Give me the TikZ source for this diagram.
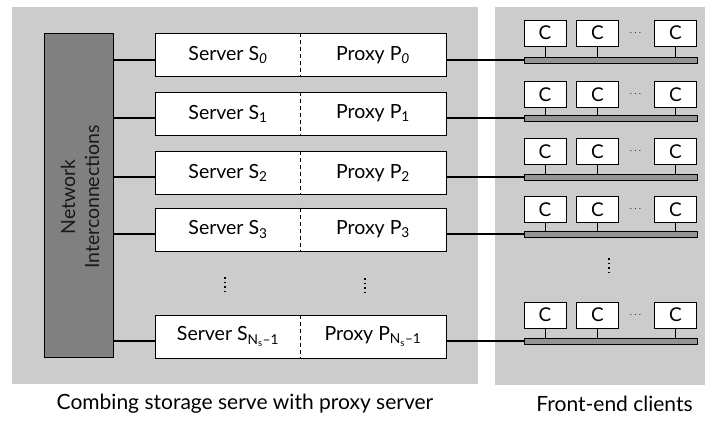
\documentclass[tikz,border=0pt]{standalone}
\usepackage{fontspec}
\setmainfont{Lato}
\begin{document}
\begin{tikzpicture}[x=1pt,y=-1pt,
  panel/.style={fill=black!20,draw=none},
  netbox/.style={draw=black,line width=0.9pt,fill=black!50,minimum width=69pt,minimum height=324pt,inner sep=0pt},
  rowbox/.style={draw=black,line width=1pt,fill=white,minimum width=291pt,minimum height=43pt,inner sep=0pt},
  lbl/.style={font=\fontsize{19.5}{22}\selectfont,inner sep=0pt},
  cbox/.style={draw=black,line width=0.9pt,fill=white,minimum width=42pt,minimum height=26pt,inner sep=0pt,font=\fontsize{19}{20}\selectfont},
  bus/.style={draw=black,line width=0.7pt,fill=black!42,minimum width=173pt,minimum height=6pt,inner sep=0pt},
  wire/.style={line width=1.6pt},
  stub/.style={line width=0.7pt},
  divider/.style={line width=0.8pt,dash pattern=on 4pt off 3pt},
  vdots/.style={line width=1.6pt,dash pattern=on 1.6pt off 3pt,line cap=butt},
  caption/.style={font=\fontsize{21}{24}\selectfont,inner sep=0pt}
]
\useasboundingbox (0,0) rectangle (708,420);
% shaded panels
\fill[panel] (12,7) rectangle (478,384);
\fill[panel] (495,7) rectangle (705,385);

% network block
\node[netbox] (net) at (78.5,195) {};
\node[lbl,rotate=90,align=center,font=\fontsize{19.5}{24}\selectfont,text=black!90] (nettext) at (80,197) {Network\\Interconnections};

% server/proxy rows: name, centre y, wire y, server label, proxy label
\foreach \n/\cy/\wy/\s/\p in {
  0/55/60/{S\textsubscript{\itshape 0}}/{P\textsubscript{\itshape 0}},
  1/113.5/118/{S\textsubscript{1}}/{P\textsubscript{1}},
  2/173/177/{S\textsubscript{2}}/{P\textsubscript{2}},
  3/229.5/234/{S\textsubscript{3}}/{P\textsubscript{3}},
  4/336.5/341/{S\textsubscript{N\textsubscript{s}–1}}/{P\textsubscript{N\textsubscript{s}–1}}}{
  \node[rowbox] (row\n) at (300.5,\cy) {};
  \draw[divider] (row\n.north) -- (row\n.south);
  \node[lbl] (srv\n) at (228,\cy) {Server \s};
  \node[lbl] (prx\n) at (373,\cy) {Proxy \p};
  \coordinate (w\n) at (134,\wy);
  \draw[wire] (net.east |- w\n) -- (row\n.west |- w\n);
}

% client groups: name, C-box centre y, bus centre y
\foreach \n/\cy/\by in {0/33/60, 1/94.5/118, 2/151.5/177, 3/209.5/234, 4/315/341}{
  \node[bus] (bus\n) at (610.5,\by) {};
  \node[cbox] (ca\n) at (545,\cy) {C};
  \node[cbox] (cb\n) at (597.5,\cy) {C};
  \node[cbox] (cc\n) at (675.5,\cy) {C};
  \node[inner sep=0pt] (dots\n) at (635.5,\cy) {$\cdots$};
  \draw[stub] (ca\n.south) -- (ca\n.south |- bus\n.north);
  \draw[stub] (cb\n.south) -- (cb\n.south |- bus\n.north);
  \draw[stub] (cc\n.south) -- (cc\n.south |- bus\n.north);
  \draw[wire] (row\n.east |- bus\n.west) -- (bus\n.west);
}

% vertical ellipses for the omitted rows
\coordinate (vdlt) at (225,277);
\coordinate (vdlb) at (225,291);
\coordinate (vdrt) at (365,278);
\coordinate (vdrb) at (365,292);
\coordinate (vdct) at (609,258);
\coordinate (vdcb) at (609,272);
\draw[vdots] (vdlt) -- (vdlb);
\draw[vdots] (vdrt) -- (vdrb);
\draw[vdots] (vdct) -- (vdcb);

% captions
\node[caption] (cap1) at (245,404) {Combing storage serve with proxy server};
\node[caption] (cap2) at (614.5,404) {Front-end clients};
\end{tikzpicture}
\end{document}
